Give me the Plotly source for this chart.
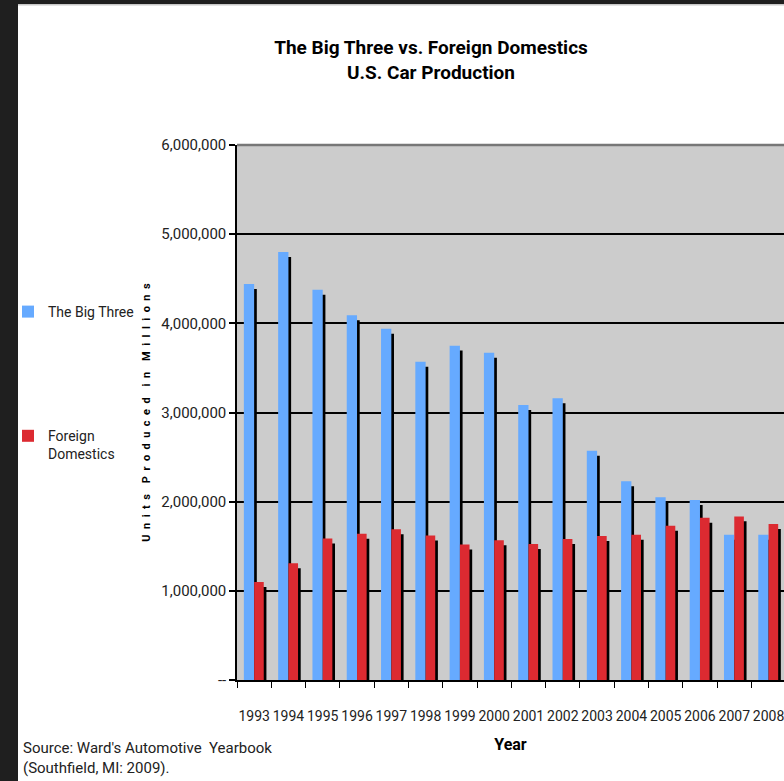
import plotly.graph_objects as go

# ---- data ----
years = [str(y) for y in range(1993, 2009)]
big_three = [4440000, 4800000, 4377000, 4090000, 3940000, 3570000, 3750000, 3670000,
             3085000, 3160000, 2570000, 2230000, 2050000, 2020000, 1630000, 1630000]
foreign_domestics = [1100000, 1310000, 1586000, 1640000, 1690000, 1620000, 1520000, 1567000,
                     1525000, 1580000, 1615000, 1630000, 1730000, 1820000, 1835000, 1750000]
y_tick_vals = [0, 1000000, 2000000, 3000000, 4000000, 5000000, 6000000]
y_tick_text = ["--", "1,000,000", "2,000,000", "3,000,000", "4,000,000", "5,000,000", "6,000,000"]

# ---- styling ----
W, H = 784, 781
L, R, T, B = 237, 0, 145, 101
PW, PH = W - L - R, H - T - B
FONT = "Roboto, Liberation Sans, sans-serif"
BLUE = "#66aaff"
RED = "#dc2a31"
SHADOW_DX = 0.078      # category units
SHADOW_DY = 56000      # data units (~5 px)

def px_x(px):
    return (px - L) / PW

def px_y(py):
    return (H - B - py) / PH

fig = go.Figure()

fig.add_trace(go.Bar(x=years, y=big_three, base=[-SHADOW_DY] * len(years),
                     offset=-0.30 + SHADOW_DX, width=0.30, marker=dict(color="black", line=dict(width=0)),
                     showlegend=False, hoverinfo="skip"))
fig.add_trace(go.Bar(x=years, y=big_three, name="The Big Three", legendgroup="a",
                     offset=-0.30, width=0.30, marker=dict(color=BLUE, line=dict(width=0))))
fig.add_trace(go.Bar(x=years, y=foreign_domestics, base=[-SHADOW_DY] * len(years),
                     offset=0.0 + SHADOW_DX, width=0.28, marker=dict(color="black", line=dict(width=0)),
                     showlegend=False, hoverinfo="skip"))
fig.add_trace(go.Bar(x=years, y=foreign_domestics, name="Foreign<br>Domestics", legendgroup="b",
                     offset=0.0, width=0.28, marker=dict(color=RED, line=dict(width=0))))

fig.update_layout(
    width=W, height=H, autosize=False,
    margin=dict(l=L, r=R, t=T, b=B, pad=0),
    barmode="overlay",
    paper_bgcolor="white",
    plot_bgcolor="#cccccc",
    font=dict(family=FONT, size=14, color="#222222"),
    title=dict(text="<b>The Big Three vs. Foreign Domestics<br>U.S. Car Production</b>",
               x=431 / W, xanchor="center", xref="container",
               y=1 - 54 / H, yanchor="top",
               font=dict(family=FONT, size=19, color="black")),
    legend=dict(x=px_x(8), xanchor="left", y=px_y(296), yanchor="top",
                bgcolor="rgba(0,0,0,0)", borderwidth=0, tracegroupgap=103,
                valign="top", font=dict(family=FONT, size=14, color="#222222")),
    xaxis=dict(type="category", range=[-0.5, 15.45], showgrid=False,
               showline=True, linecolor="black", linewidth=2,
               ticks="outside", tickson="boundaries", ticklen=6, tickcolor="black", tickwidth=1,
               tickangle=0, ticklabelstandoff=22,
               tickfont=dict(family=FONT, size=14, color="#222222"),
               title=dict(text="<b>Year</b>", standoff=16,
                          font=dict(family=FONT, size=16, color="black"))),
    yaxis=dict(range=[0, 6000000], tickvals=y_tick_vals, ticktext=y_tick_text,
               showgrid=True, gridcolor="black", gridwidth=1.5, zeroline=False,
               showline=True, linecolor="black", linewidth=1.5,
               ticks="outside", ticklen=6, tickcolor="black", tickwidth=1.5,
               tickfont=dict(family=FONT, size=15, color="#222222"),
               title=dict(text="<b>U  n  i  t  s    P  r  o  d  u  c  e  d    i  n    M  i  l  l  i  o  n  s</b>",
                          standoff=8, font=dict(family=FONT, size=11, color="black"))),
    annotations=[
        dict(text="Source: Ward's Automotive  Yearbook<br>(Southfield, MI: 2009).",
             xref="paper", yref="paper", x=px_x(21), y=px_y(737), xanchor="left", yanchor="top",
             align="left", showarrow=False, font=dict(family=FONT, size=15, color="#222222")),
    ],
    shapes=[
        # top plot border
        dict(type="line", xref="paper", yref="paper", x0=0, x1=1, y0=1, y1=1,
             line=dict(color="#777777", width=2.5), layer="above"),
        # dark frame
        dict(type="rect", xref="paper", yref="paper", x0=px_x(0), x1=px_x(18), y0=px_y(H), y1=px_y(0),
             fillcolor="#1f1f1f", line=dict(width=0), layer="above"),
        dict(type="rect", xref="paper", yref="paper", x0=px_x(0), x1=px_x(W), y0=px_y(4), y1=px_y(0),
             fillcolor="#1f1f1f", line=dict(width=0), layer="above"),
        dict(type="rect", xref="paper", yref="paper", x0=px_x(18), x1=px_x(W), y0=px_y(5.5), y1=px_y(4),
             fillcolor="#c8c8c8", line=dict(width=0), layer="above"),
    ],
)

fig.write_html("out.html")
